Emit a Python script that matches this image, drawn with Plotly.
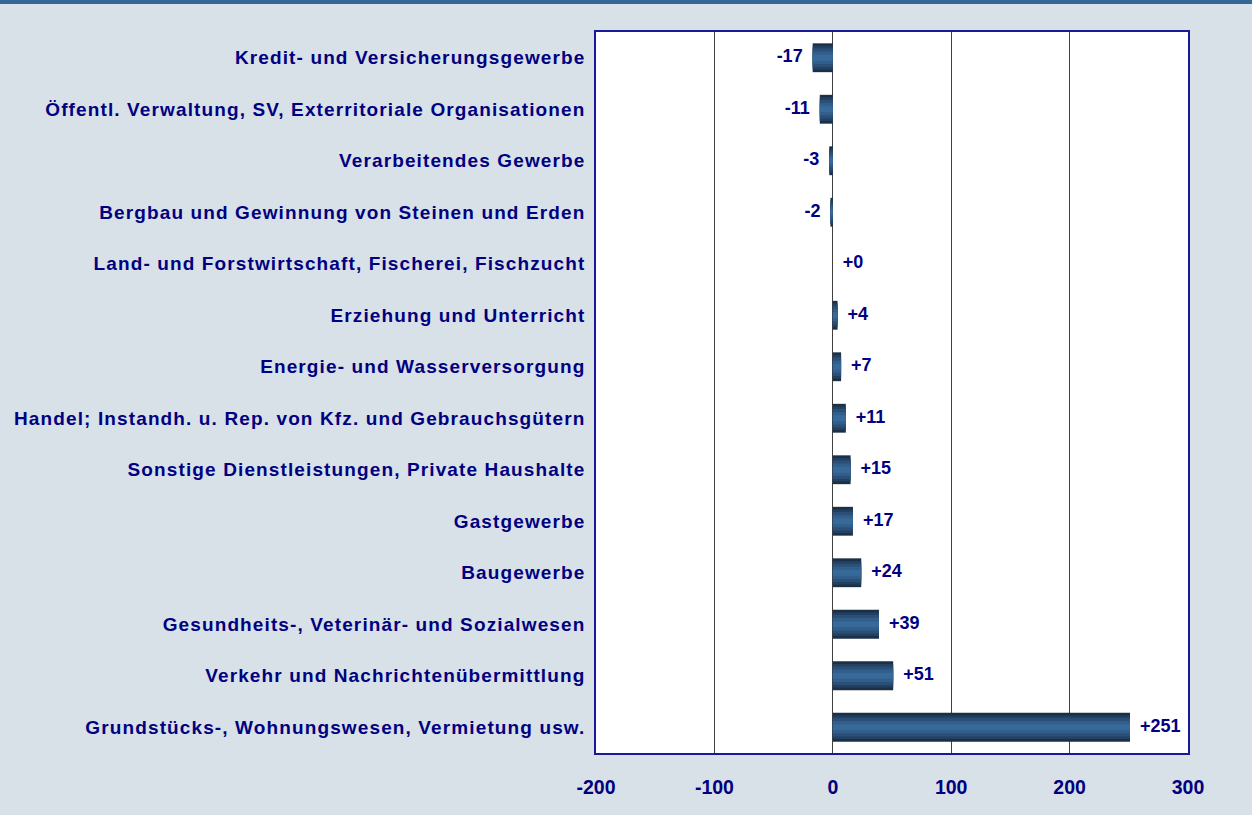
import plotly.graph_objects as go

categories = [
    "Kredit- und Versicherungsgewerbe",
    "Öffentl. Verwaltung, SV, Exterritoriale Organisationen",
    "Verarbeitendes Gewerbe",
    "Bergbau und Gewinnung von Steinen und Erden",
    "Land- und Forstwirtschaft, Fischerei, Fischzucht",
    "Erziehung und Unterricht",
    "Energie- und Wasserversorgung",
    "Handel; Instandh. u. Rep. von Kfz. und Gebrauchsgütern",
    "Sonstige Dienstleistungen, Private Haushalte",
    "Gastgewerbe",
    "Baugewerbe",
    "Gesundheits-, Veterinär- und Sozialwesen",
    "Verkehr und Nachrichtenübermittlung",
    "Grundstücks-, Wohnungswesen, Vermietung usw.",
]
values = [-17, -11, -3, -2, 0, 4, 7, 11, 15, 17, 24, 39, 51, 251]
tick_vals = [-200, -100, 0, 100, 200, 300]

NAVY = "#000080"
FONT = "Liberation Sans, Arial, sans-serif"

fig = go.Figure()

# layered bars to imitate the vertical gradient
layers = [(0.56, "#1b2f47"), (0.46, "#22405f"), (0.36, "#2a5078"), (0.24, "#315e8b"), (0.12, "#376999")]
for w, c in layers:
    fig.add_trace(go.Bar(
        y=categories, x=values, orientation="h", width=w,
        marker=dict(color=c, line=dict(width=0)),
        hoverinfo="skip", showlegend=False,
    ))

labels = [("+%d" % v) if v >= 0 else ("%d" % v) for v in values]
pos = ["middle left" if v < 0 else "middle right" for v in values]
fig.add_trace(go.Scatter(
    y=categories, x=values, mode="text",
    text=["  <b>" + t + "</b>" if v >= 0 else "<b>" + t + "</b>  " for t, v in zip(labels, values)],
    textposition=pos,
    textfont=dict(family=FONT, size=18, color=NAVY),
    showlegend=False, hoverinfo="skip", cliponaxis=False,
))

fig.update_layout(
    width=1252, height=815,
    margin=dict(l=596, r=64, t=32, b=62),
    paper_bgcolor="#d9e1e8",
    plot_bgcolor="#ffffff",
    barmode="overlay",
    xaxis=dict(
        range=[-200, 300], tickvals=tick_vals,
        ticktext=["<b>%d</b>" % v for v in tick_vals],
        showgrid=True, gridcolor="#404040", gridwidth=1,
        zeroline=True, zerolinecolor="#404040", zerolinewidth=1,
        showline=True, linecolor="#1a1a99", linewidth=1.5, mirror=True,
        ticks="outside", ticklen=16, tickcolor="rgba(0,0,0,0)",
        tickfont=dict(family=FONT, size=19.5, color=NAVY),
        fixedrange=True,
    ),
    yaxis=dict(
        range=[13.5, -0.5],
        tickmode="array", tickvals=categories,
        ticktext=["<b>" + c + "</b>" for c in categories],
        showline=True, linecolor="#1a1a99", linewidth=1.5, mirror=True,
        showgrid=False,
        ticks="outside", ticklen=5, tickcolor="rgba(0,0,0,0)",
        tickfont=dict(family=FONT, size=19, color=NAVY),
        fixedrange=True,
    ),
    shapes=[dict(
        type="rect", xref="paper", yref="paper",
        x0=-2, x1=2, y0=1 + 28 / 721, y1=1 + 40 / 721,
        fillcolor="#356698", line=dict(width=0), layer="above",
    )],
)

post = (
    "document.body.style.margin='0';document.body.style.overflow='hidden';"
    "document.querySelectorAll('.ytick text').forEach(function(t){t.style.letterSpacing='1.12px';});"
)
fig.write_html("out.html", config={"displayModeBar": False}, post_script=post)
